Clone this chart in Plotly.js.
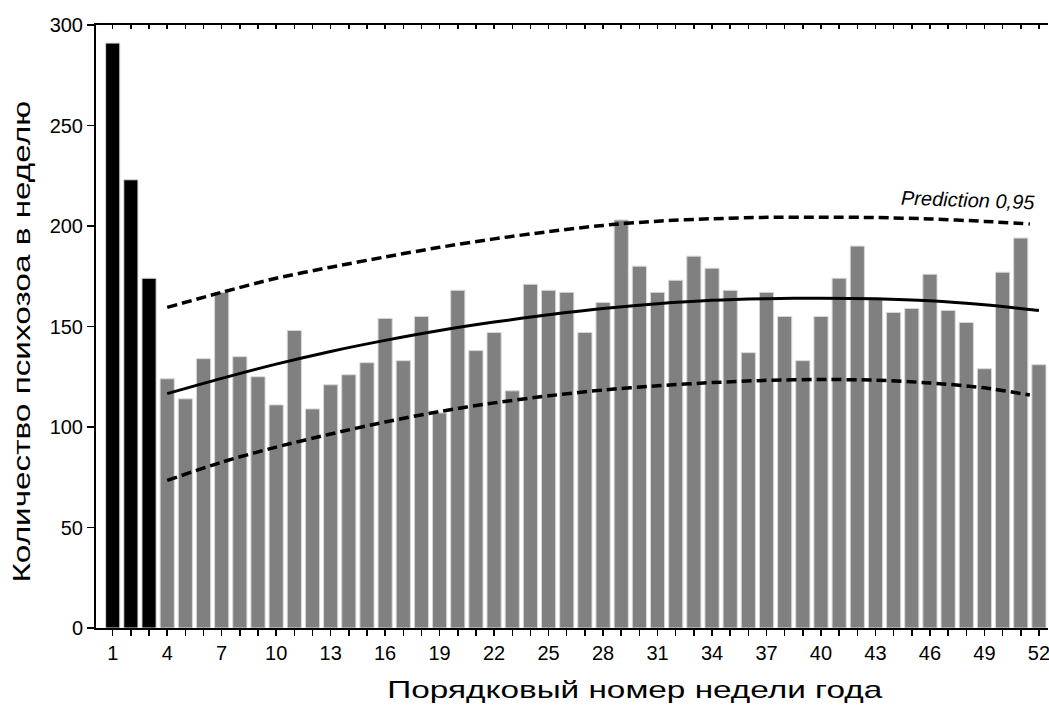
<!DOCTYPE html>
<html>
<head>
<meta charset="utf-8">
<script src="https://cdn.plot.ly/plotly-3.0.1.min.js"></script>
<style>html,body{margin:0;padding:0;background:#fff;}#chart{width:1049px;height:705px;}</style>
</head>
<body>
<div id="chart"></div>
<script>
// Weeks of the year
const weeks = [1,2,3,4,5,6,7,8,9,10,11,12,13,14,15,16,17,18,19,20,21,22,23,24,25,26,
  27,28,29,30,31,32,33,34,35,36,37,38,39,40,41,42,43,44,45,46,47,48,49,50,51,52];
// Number of psychoses per week
const counts = [291,223,174,124,114,134,167,135,125,111,148,109,121,126,132,154,133,155,107,168,138,147,118,171,168,167,
  147,162,203,180,167,173,185,179,168,137,167,155,133,155,174,190,164,157,159,176,158,152,129,177,194,131];
// Highlighted first weeks (black bars)
const highlightWeeks = [1,2,3];

// Trend curve
const fitX = [4,7,10,13,16,19,22,25,28,31,34,37,40,43,46,49,52];
const fitY = [116.6,124.2,131.3,137.6,143.1,148,152.2,155.8,158.9,161.3,163,163.8,164.1,163.8,162.8,160.8,158];
// Prediction band 0,95
const bandX = [4,7,10,13,16,19,22,25,28,31,34,37,40,43,46,49,51.5];
const upperY = [159.5,167,174,179.5,184.6,189.4,193.6,197.2,200.3,202.4,203.6,204.3,204.4,204.2,203.5,202.3,201];
const lowerY = [73.4,82.5,90,96.5,102.5,107.7,112,115.5,118.4,120.5,122.1,123.2,123.6,123.3,121.9,119.5,115.9];

const tickVals = [1,4,7,10,13,16,19,22,25,28,31,34,37,40,43,46,49,52];
const tickText = tickVals.map(String);
const xTitle = 'Порядковый номер недели года';
const yTitle = 'Количество психозоа в неделю';

const barColors = weeks.map(w => highlightWeeks.includes(w) ? '#000000' : '#808080');
const FONT = 'Liberation Sans, Arial, sans-serif';

const traces = [
  {type:'bar', x:weeks, y:counts, width:0.78,
   marker:{color:barColors, line:{color:'#d8d8d8', width:1}}, hoverinfo:'x+y'},
  {type:'scatter', mode:'lines', x:fitX, y:fitY,
   line:{color:'#000', width:3, shape:'spline', smoothing:0.8}},
  {type:'scatter', mode:'lines', x:bandX, y:upperY,
   line:{color:'#000', width:3.5, dash:'10px,5px', shape:'spline', smoothing:0.8}},
  {type:'scatter', mode:'lines', x:bandX, y:lowerY,
   line:{color:'#000', width:3.5, dash:'10px,5px', shape:'spline', smoothing:0.8}},
  {type:'scatter', mode:'markers', x:[1], y:[0], xaxis:'x2', yaxis:'y',
   marker:{opacity:0}, hoverinfo:'skip'}
];

const layout = {
  width:1049, height:705,
  margin:{l:96, r:1, t:25, b:77},
  paper_bgcolor:'#fff', plot_bgcolor:'#fff',
  showlegend:false, bargap:0,
  font:{family:FONT, color:'#000', size:20},
  xaxis:{range:[0.08,52.5], tickvals:tickVals, ticktext:tickText,
    ticks:'outside', ticklen:6, tickwidth:1.5, tickcolor:'#000',
    showline:true, linecolor:'#000', linewidth:2, showgrid:false, zeroline:false,
    ticklabeloverflow:'allow',
    tickfont:{family:FONT, size:20},
    minor:{dtick:1, tick0:0, ticks:'outside', ticklen:6, tickwidth:1.5, tickcolor:'#000', showgrid:false}},
  xaxis2:{overlaying:'x', side:'top', range:[0.08,52.5], dtick:1, tick0:0,
    ticks:'inside', ticklen:4, tickwidth:1.5, tickcolor:'#000', showticklabels:false,
    showline:true, linecolor:'#000', linewidth:2, showgrid:false, zeroline:false},
  yaxis:{range:[0,300], dtick:50, ticks:'outside', ticklen:7, tickwidth:1.5, tickcolor:'#000',
    showline:true, linecolor:'#000', linewidth:2, showgrid:false, zeroline:false,
    tickfont:{family:FONT, size:20}},
  annotations:[
    {x:48.1, y:213, xref:'x', yref:'y', text:'<i>Prediction 0,95</i>',
     showarrow:false, textangle:2, font:{family:FONT, size:20, color:'#000'}},
    {x:0.566, y:-0.103, xref:'paper', yref:'paper', text:xTitle, showarrow:false,
     xanchor:'center', yanchor:'middle', font:{family:FONT, size:23, color:'#000'}},
    {x:-0.078, y:0.474, xref:'paper', yref:'paper', text:yTitle, showarrow:false, textangle:-90,
     xanchor:'center', yanchor:'middle', font:{family:FONT, size:23, color:'#000'}}
  ]
};

Plotly.newPlot('chart', traces, layout, {displayModeBar:false, staticPlot:true}).then(function(gd){
  document.querySelectorAll('.annotation-text').forEach(function(t){
    if (t.textContent === xTitle || t.textContent === yTitle) {
      t.style.transformBox = 'fill-box';
      t.style.transformOrigin = 'center';
      t.style.transform = 'scaleX(1.45)';
    }
  });
});
</script>
</body>
</html>
